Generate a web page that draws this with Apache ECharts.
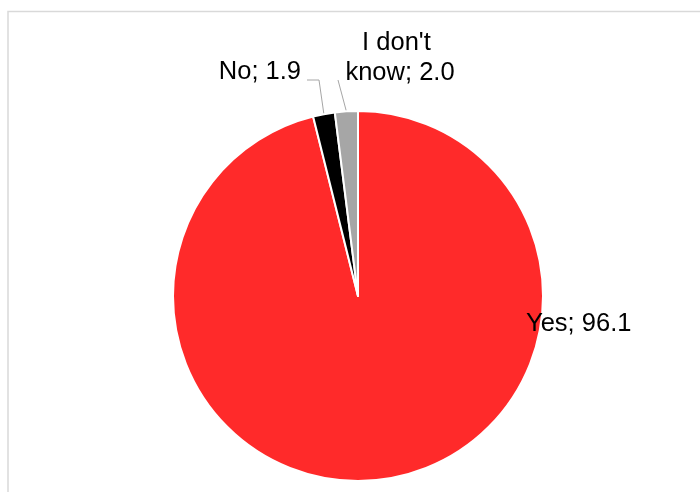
<!DOCTYPE html>
<html>
<head>
<meta charset="utf-8">
<script src="https://cdn.jsdelivr.net/npm/echarts@6/dist/echarts.min.js"></script>
<style>
  html, body { margin: 0; padding: 0; background: #ffffff; }
  #chart { width: 700px; height: 492px; }
</style>
</head>
<body>
<div id="chart"></div>
<script>
// Survey answers (percent of respondents)
const categories = ['Yes', 'No', "I don't know"];
const values = [96.1, 1.9, 2.0];
const colors = ['#FF2A2A', '#000000', '#A6A6A6'];

const FONT = '"Liberation Sans", Arial, sans-serif';

// Where each label's text block sits (pixel anchor, alignment)
const labelPlacement = [
  { x: 526, y: 324, align: 'left', verticalAlign: 'middle' },
  { x: 301, y: 72, align: 'right', verticalAlign: 'middle' },
  { x: 400, y: 58, align: 'center', verticalAlign: 'middle' }
];
// Leader-line bends/ends near each label (after the slice anchor)
const leaderTail = [
  null,
  [[319, 80], [307, 80]],
  [[338, 80]]
];

const chart = echarts.init(document.getElementById('chart'), null, { renderer: 'canvas' });

const data = categories.map((name, i) => ({
  name: name,
  value: values[i],
  itemStyle: { color: colors[i] },
  label: i === 2 ? { width: 125, overflow: 'break' } : {},
  labelLine: { show: i !== 0 }
}));

chart.setOption({
  animation: false,
  backgroundColor: '#ffffff',
  graphic: [{
    type: 'rect',
    shape: { x: 8, y: 11.5, width: 720, height: 520 },
    style: { fill: 'none', stroke: '#D9D9D9', lineWidth: 1.5 },
    silent: true
  }],
  series: [{
    type: 'pie',
    center: [358, 296],
    radius: 185,
    startAngle: 90,
    clockwise: true,
    avoidLabelOverlap: false,
    itemStyle: { borderColor: '#ffffff', borderWidth: 2 },
    label: {
      show: true,
      position: 'outside',
      color: '#000000',
      fontFamily: FONT,
      fontSize: 25.5,
      lineHeight: 30,
      align: 'center',
      formatter: p => p.name + '; ' + p.value.toFixed(1)
    },
    labelLine: {
      show: true,
      length: 30,
      length2: 10,
      lineStyle: { color: '#A6A6A6', width: 1 }
    },
    labelLayout: p => {
      const out = Object.assign({}, labelPlacement[p.dataIndex]);
      const tail = leaderTail[p.dataIndex];
      if (tail && p.labelLinePoints) {
        out.labelLinePoints = [p.labelLinePoints[0]].concat(tail);
      }
      return out;
    },
    emphasis: { disabled: true },
    data: data
  }]
});
</script>
</body>
</html>
